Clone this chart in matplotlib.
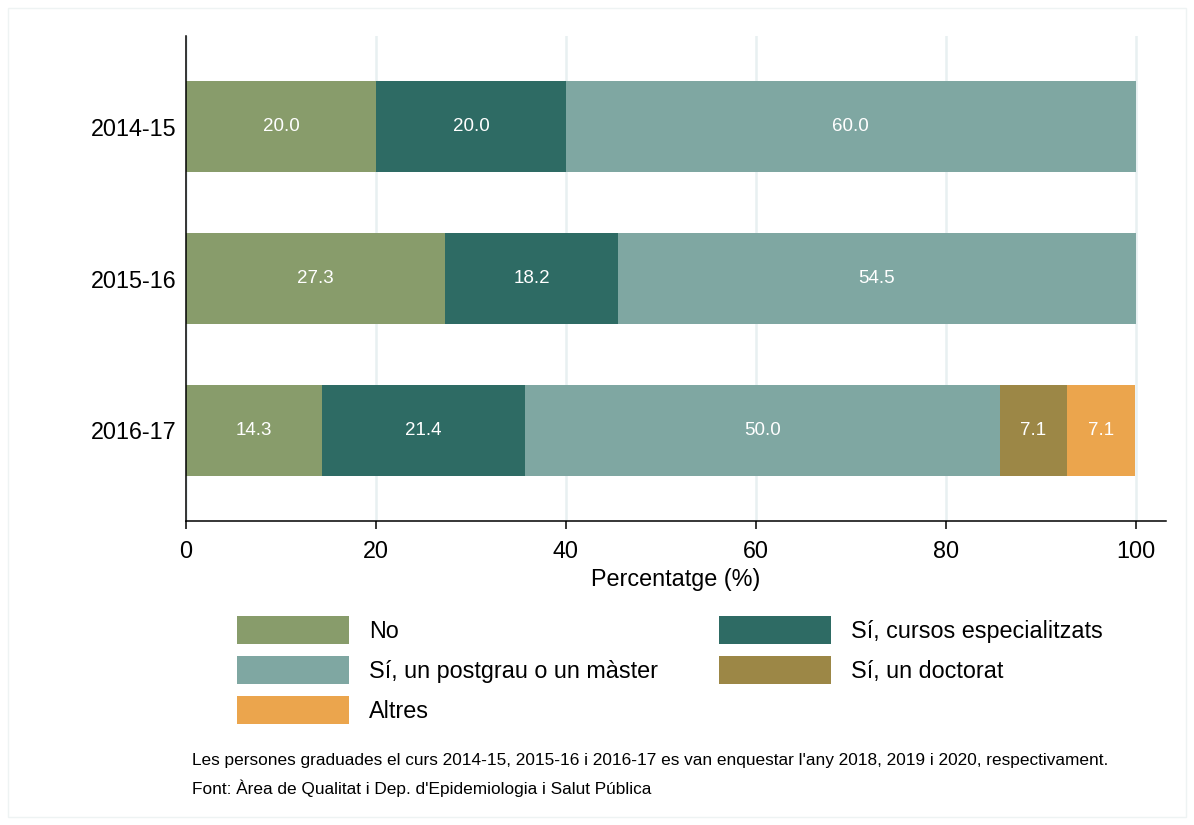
import numpy as np
import matplotlib
matplotlib.use("Agg")
import matplotlib.pyplot as plt
from matplotlib.patches import Rectangle

plt.rcParams['font.family'] = ['Liberation Sans', 'DejaVu Sans']

years = ['2014-15', '2015-16', '2016-17']
categories = ['No', 'Sí, cursos especialitzats', 'Sí, un postgrau o un màster',
              'Sí, un doctorat', 'Altres']
no_vals = [20.0, 27.3, 14.3]
cursos_vals = [20.0, 18.2, 21.4]
postgrau_vals = [60.0, 54.5, 50.0]
doctorat_vals = [0.0, 0.0, 7.1]
altres_vals = [0.0, 0.0, 7.1]
colors = ['#889c6b', '#2e6b64', '#7fa7a2', '#9c8746', '#eba54d']

series = [no_vals, cursos_vals, postgrau_vals, doctorat_vals, altres_vals]

fig = plt.figure(figsize=(11.94, 8.25), dpi=100)
ax = fig.add_axes([186 / 1194, 1 - 521 / 825, (1166 - 186) / 1194, (521 - 36) / 825])

y = np.arange(len(years))
left = np.zeros(len(years))
bars = []
for vals, col, name in zip(series, colors, categories):
    vals = np.array(vals)
    b = ax.barh(y, vals, left=left, height=0.6, color=col, label=name, linewidth=0, zorder=2)
    bars.append(b)
    for yi, (l, v) in enumerate(zip(left, vals)):
        if v > 0:
            ax.text(l + v / 2, yi, f'{v:.1f}', ha='center', va='center',
                    color='white', fontsize=13.5, zorder=3)
    left = left + vals

ax.set_xlim(0, 103.2)
ax.set_ylim(2.6, -0.6)
ax.set_yticks(y)
ax.set_yticklabels(years, fontsize=16.8)
ax.set_xticks(np.arange(0, 101, 20))
ax.tick_params(axis='x', labelsize=16.8, length=6, width=1.1, pad=8)
ax.tick_params(axis='y', length=0, pad=7)
ax.set_xlabel('Percentatge (%)', fontsize=16.8, labelpad=3)

ax.grid(axis='x', color='#e8f0f1', linewidth=1.8, zorder=0)
ax.set_axisbelow(True)
for s in ['top', 'right']:
    ax.spines[s].set_visible(False)
for s in ['left', 'bottom']:
    ax.spines[s].set_linewidth(1.1)
    ax.spines[s].set_color('black')

# legend: column-major order so rows read No / cursos, postgrau / doctorat, Altres
order = [0, 2, 4, 1, 3]
fs = 16.8
px = fs * 100 / 72
fig.legend([bars[i] for i in order], [categories[i] for i in order],
           loc='upper left', bbox_to_anchor=(237 / 1194, 1 - 616 / 825),
           ncol=2, frameon=False, fontsize=fs, borderpad=0, borderaxespad=0,
           handlelength=112 / px, handleheight=1.47,
           labelspacing=12 / px, handletextpad=20 / px,
           columnspacing=2.61)

fig.text(192 / 1194, 1 - 760 / 825,
         "Les persones graduades el curs 2014-15, 2015-16 i 2016-17 es van enquestar "
         "l'any 2018, 2019 i 2020, respectivament.", fontsize=12.4, va='center')
fig.text(192 / 1194, 1 - 788 / 825,
         "Font: Àrea de Qualitat i Dep. d'Epidemiologia i Salut Pública",
         fontsize=12.4, va='center')

fig.patches.append(Rectangle((8 / 1194, 8 / 825), 1178 / 1194, 809 / 825,
                             transform=fig.transFigure, fill=False,
                             edgecolor='#eef3f3', linewidth=1))

fig.savefig('out.png', dpi=100, facecolor='white')
